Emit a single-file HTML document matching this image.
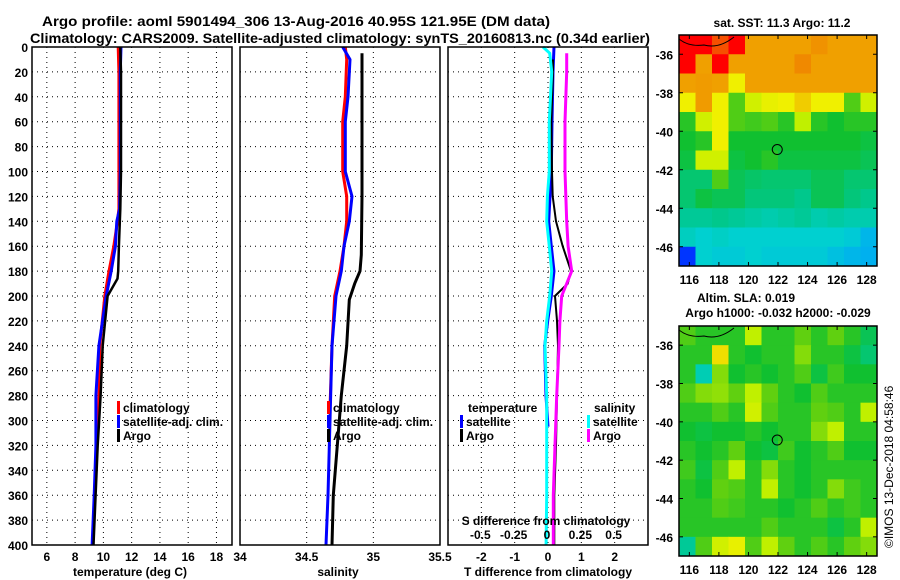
<!DOCTYPE html>
<html><head><meta charset="utf-8"><style>
html,body{margin:0;padding:0;background:#fff;}
svg{display:block;font-family:"Liberation Sans",sans-serif;font-weight:bold;}
text{fill:#000;}
</style></head><body>
<svg id="chart" width="900" height="580" viewBox="0 0 900 580" xmlns="http://www.w3.org/2000/svg">
<text x="296" y="26" font-size="14" text-anchor="middle" textLength="508" lengthAdjust="spacingAndGlyphs">Argo profile: aoml 5901494_306 13-Aug-2016 40.95S 121.95E (DM data)</text>
<text x="340" y="43" font-size="14" text-anchor="middle" textLength="620" lengthAdjust="spacingAndGlyphs">Climatology: CARS2009. Satellite-adjusted climatology: synTS_20160813.nc (0.34d earlier)</text>
<g id="panels"></g>
<g id="maps"></g>
<text x="0" y="0" font-size="12" font-weight="normal" transform="translate(893,548) rotate(-90)">©IMOS 13-Dec-2018 04:58:46</text>
</svg>
<script>
// ---- data ----
const depthTicks = [0,20,40,60,80,100,120,140,160,180,200,220,240,260,280,300,320,340,360,380,400];
const tempTicks = [6,8,10,12,14,16,18];
const salTicks = [34,34.5,35,35.5];
const salTickLabels = ["34","34.5","35","35.5"];
const tdiffTicks = [-2,-1,0,1,2];
const sdiffTicks = [-0.5,-0.25,0,0.25,0.5];
const sdiffTickLabels = ["-0.5","-0.25","0","0.25","0.5"];

const tClimDepth = [0,20,60,100,130,140,160,180,200,240,280,320];
const tClimVal   = [11.05,11.1,11.1,11.1,11.1,11.0,10.74,10.4,10.1,9.75,9.7,9.52];
const tSatDepth  = [0,20,60,100,130,140,160,180,200,240,280,320,360,400];
const tSatVal    = [11.25,11.2,11.2,11.2,11.15,10.95,10.85,10.55,10.2,9.68,9.47,9.47,9.35,9.2];
const tArgoDepth = [0,20,60,100,130,160,180,186,200,240,280,320,360,400];
const tArgoVal   = [11.2,11.25,11.25,11.25,11.2,11.1,11.05,11.0,10.3,9.95,9.8,9.6,9.45,9.3];

const sClimDepth = [0,10,40,60,100,120,140,160,180,200,240,290];
const sClimVal   = [34.79,34.8,34.79,34.77,34.77,34.8,34.8,34.78,34.75,34.71,34.69,34.675];
const sSatDepth  = [0,10,40,60,100,120,140,160,180,200,240,300,360,400];
const sSatVal    = [34.77,34.825,34.81,34.79,34.79,34.84,34.82,34.78,34.76,34.72,34.69,34.675,34.66,34.645];
const sArgoDepth = [5,60,120,167,180,190,203,240,280,320,360,400];
const sArgoVal   = [34.915,34.915,34.915,34.91,34.9,34.86,34.82,34.8,34.76,34.73,34.7,34.69];

const dTSatDepth = [0,20,60,100,140,160,180,200,220,240,280,305];
const dTSatVal   = [0.18,0.15,0.12,0.1,0.02,0.1,0.18,0.1,-0.01,-0.1,-0.06,0.0];
const dTArgoDepth = [10,20,60,100,120,140,160,180,190,200,220,240,280,320,360,400];
const dTArgoVal   = [0.15,0.15,0.1,0.12,0.14,0.24,0.44,0.69,0.59,0.21,0.27,0.3,0.27,0.24,0.19,0.19];
const dSSatDepth = [0,5,20,60,100,120,140,160,180,200,220,240,280,320,360,400];
const dSSatVal   = [-0.03,0.02,0.035,0.017,0.017,0.003,-0.002,0.017,0.035,0.02,-0.002,-0.015,-0.002,-0.002,-0.002,-0.007];
const dSArgoDepth = [5,20,60,100,140,160,180,200,220,240,280,320,360,400];
const dSArgoVal   = [0.148,0.148,0.135,0.135,0.148,0.158,0.185,0.11,0.097,0.09,0.073,0.06,0.047,0.047];

const mapLonTicks = [116,118,120,122,124,126,128];
const mapLatTicks = [-36,-38,-40,-42,-44,-46];
const argoLon = 121.95, argoLat = -40.95;
const sstGrid = [
 [1,1,.95,1,.85,.85,.85,.85,.88,.85,.85,.85],
 [1,.85,1,.85,.85,.85,.85,.9,.85,.85,.85,.85],
 [.85,.86,.85,.76,.85,.85,.85,.85,.85,.85,.85,.85],
 [.76,.86,.76,.6,.72,.75,.76,.8,.76,.76,.6,.72],
 [.55,.72,.76,.6,.58,.6,.55,.7,.55,.52,.55,.55],
 [.52,.55,.76,.52,.52,.52,.52,.52,.52,.52,.52,.5],
 [.5,.72,.72,.5,.52,.55,.5,.5,.5,.5,.5,.48],
 [.45,.45,.6,.48,.46,.45,.45,.45,.48,.48,.45,.45],
 [.45,.5,.48,.48,.44,.44,.44,.42,.48,.48,.44,.42],
 [.4,.4,.42,.4,.38,.36,.38,.4,.36,.38,.36,.36],
 [.33,.3,.32,.3,.3,.3,.3,.3,.3,.3,.28,.22],
 [.05,.3,.28,.28,.3,.28,.28,.28,.28,.25,.22,.2]];
const slaGrid = [
 [.6,.55,.55,.55,.7,.55,.55,.62,.55,.62,.55,.48],
 [.55,.55,.78,.55,.52,.55,.55,.65,.55,.55,.5,.45],
 [.55,.35,.65,.52,.55,.52,.55,.6,.5,.58,.52,.52],
 [.6,.65,.66,.62,.7,.62,.55,.52,.6,.55,.55,.55],
 [.55,.55,.6,.55,.72,.6,.55,.55,.62,.6,.55,.7],
 [.52,.5,.52,.52,.55,.52,.55,.55,.65,.7,.55,.55],
 [.55,.52,.55,.62,.52,.5,.58,.52,.55,.6,.52,.52],
 [.58,.5,.6,.7,.55,.65,.55,.52,.55,.55,.55,.55],
 [.55,.52,.62,.6,.55,.7,.55,.52,.55,.65,.58,.55],
 [.55,.55,.6,.58,.55,.55,.52,.55,.6,.55,.58,.55],
 [.55,.55,.55,.55,.55,.6,.55,.55,.55,.5,.55,.7],
 [.4,.6,.72,.75,.6,.7,.62,.55,.6,.55,.62,.65]];

// ---- helpers ----
const NS = "http://www.w3.org/2000/svg";
function mk(tag, attrs, parent){ const e=document.createElementNS(NS,tag); for(const k in attrs) e.setAttribute(k,attrs[k]); if(parent) parent.appendChild(e); return e; }
function txt(parent, x, y, s, size, anchor){ const t=mk("text",{x:x,y:y,"font-size":size,"text-anchor":anchor||"start"},parent); t.textContent=s; return t; }

const PY0=47, PY1=545;
const yD = d => PY0 + d*(PY1-PY0)/400;
const panelsG = document.getElementById("panels");

function panel(name, x0, x1, vmin, vmax){
  const g = mk("g",{},panelsG);
  
  
  const fx = v => x0 + (v-vmin)*(x1-x0)/(vmax-vmin);
  return {g, fx, x0, x1};
}
function grid(p, xt){
  depthTicks.forEach(d=>{ if(d>0&&d<400){ const l=mk("line",{x1:p.x0,x2:p.x1,y1:yD(d),y2:yD(d),stroke:"#000","stroke-width":1,"stroke-dasharray":"1,4"},p.g);
      }});
  xt.forEach(v=>{ const x=p.fx(v); if(x>p.x0+1&&x<p.x1-1){ const l=mk("line",{x1:x,x2:x,y1:PY0,y2:PY1,stroke:"#000","stroke-width":1,"stroke-dasharray":"1,4"},p.g);
      }});
}
function frame(p){
  const r=mk("rect",{x:p.x0,y:PY0,width:p.x1-p.x0,height:PY1-PY0,fill:"none",stroke:"#000","stroke-width":1.5},p.g);
   
}
function series(p, name, depths, vals, color, w){
  let pts=depths.map((d,i)=>p.fx(vals[i]).toFixed(1)+","+yD(d).toFixed(1)).join(" ");
  const l=mk("polyline",{points:pts,fill:"none",stroke:color,"stroke-width":w,"stroke-linejoin":"round"},p.g);
  
  
}
function legendItem(p, name, x, y, color, label){
  const g=mk("g",{},p.g);
  
  
  if(color) mk("rect",{x:x,y:y-11,width:3,height:13,fill:color},g);
  txt(g,x+6,y,label,12);
}

// temperature panel
const pT = panel("temperature-panel",32,232,4.95,19.1);
grid(pT,tempTicks);
series(pT,"temp-climatology-line",tClimDepth,tClimVal,"#ff0000",3);
series(pT,"temp-satellite-line",tSatDepth,tSatVal,"#0000ff",3);
series(pT,"temp-argo-line",tArgoDepth,tArgoVal,"#000",2.5);
frame(pT);
tempTicks.forEach(v=>{ const t=txt(pT.g,pT.fx(v),561,String(v),12,"middle");   });
depthTicks.forEach(d=>{ const t=txt(pT.g,28,yD(d)+5,String(d),12,"end");   });
{ const t=txt(pT.g,130,576,"temperature (deg C)",12,"middle");   }
legendItem(pT,"legend-climatology",117,412,"#ff0000","climatology");
legendItem(pT,"legend-satellite",117,426,"#0000ff","satellite-adj. clim.");
legendItem(pT,"legend-argo",117,440,"#000","Argo");

// salinity panel
const pS = panel("salinity-panel",240,440,34,35.5);
grid(pS,salTicks);
series(pS,"sal-climatology-line",sClimDepth,sClimVal,"#ff0000",3);
series(pS,"sal-satellite-line",sSatDepth,sSatVal,"#0000ff",3);
series(pS,"sal-argo-line",sArgoDepth,sArgoVal,"#000",3);
frame(pS);
salTicks.forEach((v,i)=>{ const t=txt(pS.g,pS.fx(v),561,salTickLabels[i],12,"middle");   });
{ const t=txt(pS.g,338,576,"salinity",12,"middle");   }
legendItem(pS,"legend-climatology",327,412,"#ff0000","climatology");
legendItem(pS,"legend-satellite",327,426,"#0000ff","satellite-adj. clim.");
legendItem(pS,"legend-argo",327,440,"#000","Argo");

// difference panel
const pD = panel("difference-panel",448,648,-3,3);
const fxS = v => 547 + v*133.3;
grid(pD,tdiffTicks);
series(pD,"tdiff-satellite-line",dTSatDepth,dTSatVal,"#0000ff",3);
series(pD,"tdiff-argo-line",dTArgoDepth,dTArgoVal,"#000",2);
const pDs = {g:pD.g, fx:fxS, x0:448, x1:648};
series(pDs,"sdiff-satellite-line",dSSatDepth,dSSatVal,"#00ffff",3);
series(pDs,"sdiff-argo-line",dSArgoDepth,dSArgoVal,"#ff00ff",3);
frame(pD);
tdiffTicks.forEach(v=>{ const t=txt(pD.g,pD.fx(v),561,String(v),12,"middle");   });
sdiffTicks.forEach((v,i)=>{ const t=txt(pD.g,fxS(v),539,sdiffTickLabels[i],12,"middle");   });
{ const t=txt(pD.g,546,525,"S difference from climatology",12,"middle");   }
{ const t=txt(pD.g,548,576,"T difference from climatology",12,"middle");   }
{ const t=txt(pD.g,468,412,"temperature",12);   }
legendItem(pD,"legend-t-satellite",460,426,"#0000ff","satellite");
legendItem(pD,"legend-t-argo",460,440,"#000","Argo");
{ const t=txt(pD.g,594,412,"salinity",12);   }
legendItem(pD,"legend-s-satellite",587,426,"#00ffff","satellite");
legendItem(pD,"legend-s-argo",587,440,"#ff00ff","Argo");

// ---- maps ----
const stops=[[0,[0,0,255]],[0.15,[0,160,255]],[0.3,[0,208,208]],[0.42,[0,200,140]],[0.52,[16,192,48]],[0.62,[96,208,16]],[0.7,[192,240,0]],[0.76,[240,240,0]],[0.85,[240,160,0]],[0.92,[240,128,0]],[1,[255,0,0]]];
function cmap(v){ for(let i=1;i<stops.length;i++){ if(v<=stops[i][0]){ const a=stops[i-1],b=stops[i],t=(v-a[0])/(b[0]-a[0]); return "rgb("+a[1].map((c,k)=>Math.round(c+(b[1][k]-c)*t)).join(",")+")"; } } return "rgb(255,0,0)"; }
const mapsG=document.getElementById("maps");
function drawMap(name, gridData, y0, y1, blur){
  const x0=679,x1=877, lon0=115.3, lon1=128.7, lat0=-35.0, lat1=-47.0;
  const fx=lon=>x0+(lon-lon0)*(x1-x0)/(lon1-lon0), fy=lat=>y0+(lat-lat0)*(y1-y0)/(lat1-lat0);
  const g=mk("g",{},mapsG);
  
  
  const clipId=name+"-clip";
  const cp=mk("clipPath",{id:clipId},g); mk("rect",{x:x0,y:y0,width:x1-x0,height:y1-y0},cp);
  const cells=mk("g",{"clip-path":"url(#"+clipId+")"},g);
  const rows=gridData.length, cols=gridData[0].length, cw=(x1-x0)/cols, ch=(y1-y0)/rows;
  gridData.forEach((row,r)=>row.forEach((v,c)=>{
    const rc=mk("rect",{x:(x0+c*cw).toFixed(2),y:(y0+r*ch).toFixed(2),width:(cw+0.6).toFixed(2),height:(ch+0.6).toFixed(2),fill:cmap(v)},cells);
     
  }));
  const coast=mk("path",{d:`M${x0} ${y0+4} Q${x0+10} ${y0+12} ${x0+25} ${y0+10} Q${x0+40} ${y0+14} ${x0+55} ${y0+2}`,fill:"none",stroke:"#000","stroke-width":1},cells);
   
  const ring=mk("circle",{cx:fx(argoLon),cy:fy(argoLat),r:5,fill:"none",stroke:"#000","stroke-width":1},g);
   
  mk("rect",{x:x0,y:y0,width:x1-x0,height:y1-y0,fill:"none",stroke:"#000","stroke-width":1.5},g);
  mapLonTicks.forEach(lon=>{ const x=fx(lon);
    mk("line",{x1:x,x2:x,y1:y1,y2:y1-4,stroke:"#000"},g); mk("line",{x1:x,x2:x,y1:y0,y2:y0+4,stroke:"#000"},g);
    const t=txt(g,x,y1+18,String(lon),12,"middle");   });
  mapLatTicks.forEach(lat=>{ const y=fy(lat);
    mk("line",{x1:x0,x2:x0+4,y1:y,y2:y,stroke:"#000"},g); mk("line",{x1:x1,x2:x1-4,y1:y,y2:y,stroke:"#000"},g);
    const t=txt(g,673,y+5,String(lat),12,"end");   });
}
drawMap("sst-map",sstGrid,35,266);
drawMap("sla-map",slaGrid,326,556);
{ const t=txt(mapsG,782,27,"sat. SST: 11.3 Argo: 11.2",12,"middle");   }
{ const t=txt(mapsG,746,302,"Altim. SLA: 0.019",12,"middle");   }
{ const t=txt(mapsG,778,317,"Argo h1000: -0.032 h2000: -0.029",12,"middle");   }
</script>
</body></html>
